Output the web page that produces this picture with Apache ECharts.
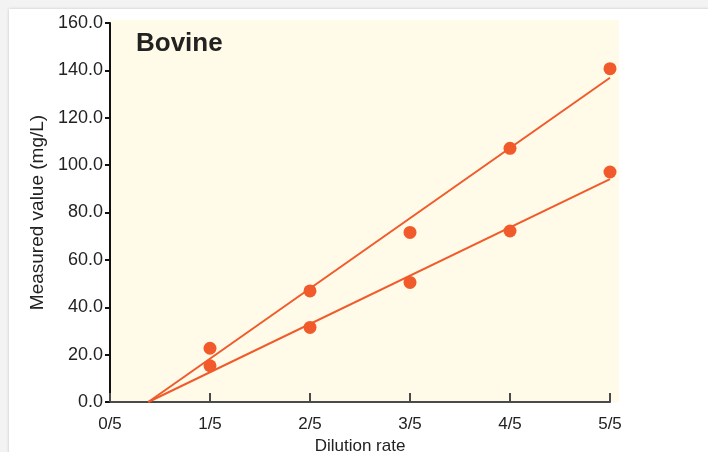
<!DOCTYPE html>
<html>
<head>
<meta charset="utf-8">
<script src="https://cdn.jsdelivr.net/npm/echarts@6/dist/echarts.min.js"></script>
<style>
  html, body { margin: 0; padding: 0; background: #f3f3f3; width: 708px; height: 452px; overflow: hidden; }
  #card { position: absolute; left: 9px; top: 9px; width: 760px; height: 500px; background: #fff; box-shadow: 0 0 3px rgba(0,0,0,0.18); }
  #chart { position: absolute; left: 0; top: 0; width: 708px; height: 452px; }
</style>
</head>
<body>
<div id="card"></div>
<div id="chart"></div>
<script>
// Data
const xTickLabels = ['0/5', '1/5', '2/5', '3/5', '4/5', '5/5'];
const xPositions = [1, 2, 3, 4, 5];
const upperValues = [22.7, 46.9, 71.6, 107.1, 140.7];
const lowerValues = [15.3, 31.5, 50.5, 72.2, 97.1];
const upperFitX = [0.383, 5];
const upperFitY = [0, 136.9];
const lowerFitX = [0.383, 5];
const lowerFitY = [0, 94.1];
const chartTitle = 'Bovine';

const ORANGE = '#f15a2b';
const TEXT = '#222';
const FONT = 'Liberation Sans, Arial, sans-serif';

const chart = echarts.init(document.getElementById('chart'), null, { renderer: 'canvas' });

const pts = (xs, ys) => xs.map((x, i) => [x, ys[i]]);

chart.setOption({
  animation: false,
  backgroundColor: 'transparent',
  textStyle: { fontFamily: FONT },
  graphic: [
    { type: 'rect', z: -10, silent: true, shape: { x: 110, y: 20, width: 509, height: 382 }, style: { fill: '#fffbe8' } },
    { type: 'text', left: 136, top: 31, style: { text: chartTitle, font: 'bold 26px ' + FONT, fill: TEXT } }
  ],
  grid: { left: 110, right: 98, top: 23, bottom: 50, containLabel: false, outerBoundsMode: 'none' },
  xAxis: {
    type: 'value', min: 0, max: 5, interval: 1,
    name: 'Dilution rate', nameLocation: 'middle', nameGap: 30,
    nameTextStyle: { fontSize: 17, color: TEXT, fontFamily: FONT },
    axisLine: { show: true, lineStyle: { color: '#4a4a4a', width: 2 } },
    axisTick: { show: true, inside: true, length: 9, lineStyle: { color: '#4a4a4a', width: 2 } },
    axisLabel: { fontSize: 17, color: TEXT, margin: 14, fontFamily: FONT, formatter: v => xTickLabels[Math.round(v)] },
    splitLine: { show: false }
  },
  yAxis: {
    type: 'value', min: 0, max: 160, interval: 20,
    name: 'Measured value (mg/L)', nameLocation: 'middle', nameGap: 57, nameRotate: 90,
    nameTextStyle: { fontSize: 19, color: TEXT, fontFamily: FONT },
    axisLine: { show: true, lineStyle: { color: '#111', width: 2 } },
    axisTick: { show: true, inside: false, length: 5, lineStyle: { color: '#111', width: 2 } },
    axisLabel: { fontSize: 18, color: TEXT, margin: 7, padding: [5, 0, 0, 0], fontFamily: FONT, formatter: v => v.toFixed(1) },
    splitLine: { show: false }
  },
  series: [
    { type: 'line', data: pts(upperFitX, upperFitY), symbol: 'none', lineStyle: { color: ORANGE, width: 2 }, z: 2 },
    { type: 'line', data: pts(lowerFitX, lowerFitY), symbol: 'none', lineStyle: { color: ORANGE, width: 2 }, z: 2 },
    { type: 'scatter', data: pts(xPositions, upperValues), symbolSize: 13, itemStyle: { color: ORANGE, opacity: 1 }, z: 3 },
    { type: 'scatter', data: pts(xPositions, lowerValues), symbolSize: 13, itemStyle: { color: ORANGE, opacity: 1 }, z: 3 }
  ]
});
</script>
</body>
</html>
